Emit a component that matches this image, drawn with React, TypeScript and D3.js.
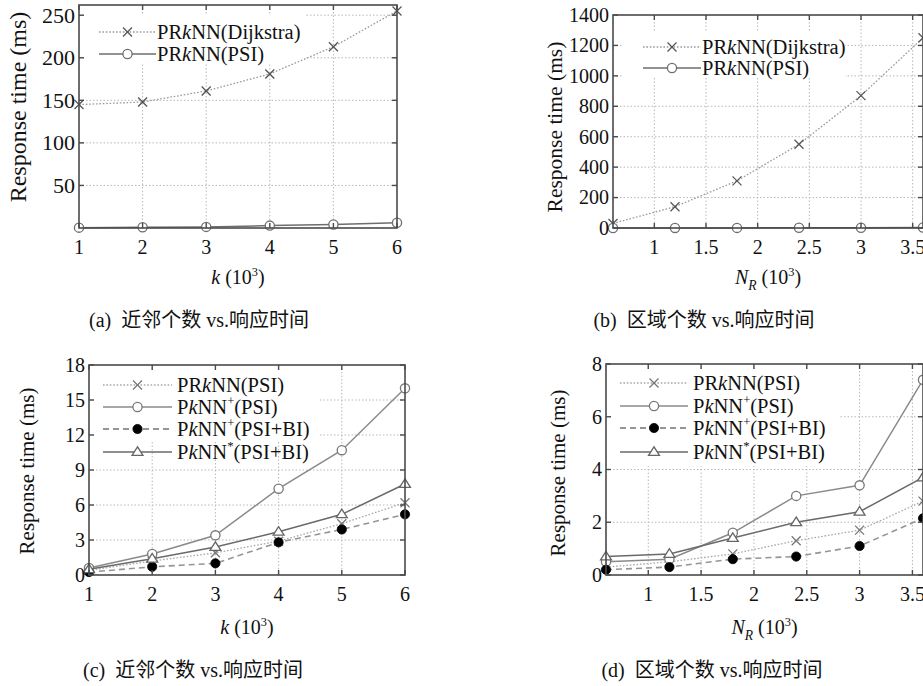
import React from 'react';
import * as d3 from 'd3';

// ---------- data ----------
const kValues = [1, 2, 3, 4, 5, 6];
const nrValues = [0.6, 1.2, 1.8, 2.4, 3.0, 3.6];

const kTicks = [1, 2, 3, 4, 5, 6];
const nrTicks = [1, 1.5, 2, 2.5, 3, 3.5];
const aYTicks = [50, 100, 150, 200, 250];
const bYTicks = [0, 200, 400, 600, 800, 1000, 1200, 1400];
const cYTicks = [0, 3, 6, 9, 12, 15, 18];
const dYTicks = [0, 2, 4, 6, 8];

const aDijkstra = [145, 148, 161, 181, 213, 255];
const aPSI = [0.4, 0.8, 1.3, 2.8, 4.2, 6.2];
const bDijkstra = [30, 140, 310, 550, 870, 1250];
const bPSI = [0.3, 0.5, 0.8, 1.3, 1.7, 2.8];

const cPRkNN = [0.4, 1.2, 1.9, 2.9, 4.4, 6.2];
const cPkNNPlus = [0.6, 1.8, 3.4, 7.4, 10.7, 16.0];
const cPkNNPlusBI = [0.25, 0.7, 1.0, 2.8, 3.9, 5.2];
const cPkNNStar = [0.5, 1.4, 2.4, 3.7, 5.2, 7.8];

const dPRkNN = [0.3, 0.5, 0.8, 1.3, 1.7, 2.8];
const dPkNNPlus = [0.5, 0.6, 1.6, 3.0, 3.4, 7.4];
const dPkNNPlusBI = [0.2, 0.3, 0.6, 0.7, 1.1, 2.15];
const dPkNNStar = [0.7, 0.8, 1.4, 2.0, 2.4, 3.7];

type Seg = { t: string; i?: boolean; sup?: boolean; sub?: boolean };

const labelDijkstra: Seg[] = [{ t: 'PR' }, { t: 'k', i: true }, { t: 'NN(Dijkstra)' }];
const labelPRkNNPSI: Seg[] = [{ t: 'PR' }, { t: 'k', i: true }, { t: 'NN(PSI)' }];
const labelPkNNPlus: Seg[] = [{ t: 'P' }, { t: 'k', i: true }, { t: 'NN' }, { t: '+', sup: true }, { t: '(PSI)' }];
const labelPkNNPlusBI: Seg[] = [{ t: 'P' }, { t: 'k', i: true }, { t: 'NN' }, { t: '+', sup: true }, { t: '(PSI+BI)' }];
const labelPkNNStar: Seg[] = [{ t: 'P' }, { t: 'k', i: true }, { t: 'NN' }, { t: '*', sup: true }, { t: '(PSI+BI)' }];

const xLabelK: Seg[] = [{ t: 'k', i: true }, { t: ' (10' }, { t: '3', sup: true }, { t: ')' }];
const xLabelNR: Seg[] = [{ t: 'N', i: true }, { t: 'R', i: true, sub: true }, { t: ' (10' }, { t: '3', sup: true }, { t: ')' }];
const yLabel = 'Response time (ms)';

const captions = ['(a)  近邻个数 vs.响应时间', '(b)  区域个数 vs.响应时间', '(c)  近邻个数 vs.响应时间', '(d)  区域个数 vs.响应时间'];

// ---------- styles ----------
const SERIF = '"Liberation Serif", "Times New Roman", "Noto Sans CJK SC", serif';
const AXIS = '#4a4a4a';
const GRID = '#b8b8b8';

type Marker = 'x' | 'o' | 'dot' | 'tri';
type Style = { stroke: string; dash?: string; width: number; marker: Marker; mColor: string };

const stDijkstra: Style = { stroke: '#9a9a9a', dash: '1.6,1.8', width: 1.3, marker: 'x', mColor: '#555' };
const stPSIab: Style = { stroke: '#6e6e6e', width: 1.5, marker: 'o', mColor: '#6e6e6e' };
const stPRkNN: Style = { stroke: '#a8a8a8', dash: '1.6,1.8', width: 1.3, marker: 'x', mColor: '#777' };
const stPlus: Style = { stroke: '#8a8a8a', width: 1.5, marker: 'o', mColor: '#777' };
const stPlusBI: Style = { stroke: '#959595', dash: '6,4', width: 1.6, marker: 'dot', mColor: '#000' };
const stStar: Style = { stroke: '#6a6a6a', width: 1.5, marker: 'tri', mColor: '#666' };

type Series = { values: number[]; label: Seg[]; style: Style };
type PanelCfg = {
  left: number; right: number; top: number; bottom: number;
  xDomain: [number, number]; yDomain: [number, number];
  xs: number[]; xTicks: number[]; yTicks: number[];
  series: Series[];
  yTickFont: number; yLabelFont: number; yLabelX: number; yLabelY: number;
  xLabel: Seg[]; xLabelY: number;
  caption: string; captionX: number; captionY: number;
  legend: { x0: number; x1: number; tx: number; rows: number[]; box: [number, number, number, number] };
};

const panels: PanelCfg[] = [
  {
    left: 79, right: 397, top: 5, bottom: 228, xDomain: [1, 6], yDomain: [0, 262],
    xs: kValues, xTicks: kTicks, yTicks: aYTicks,
    series: [
      { values: aDijkstra, label: labelDijkstra, style: stDijkstra },
      { values: aPSI, label: labelPRkNNPSI, style: stPSIab },
    ],
    yTickFont: 22, yLabelFont: 24, yLabelX: 26, yLabelY: 107,
    xLabel: xLabelK, xLabelY: 284, caption: captions[0], captionX: 199, captionY: 327,
    legend: { x0: 99, x1: 156, tx: 157, rows: [32, 54], box: [84, 14, 306, 64] },
  },
  {
    left: 613, right: 923, top: 15, bottom: 228, xDomain: [0.6, 3.6], yDomain: [0, 1400],
    xs: nrValues, xTicks: nrTicks, yTicks: bYTicks,
    series: [
      { values: bDijkstra, label: labelDijkstra, style: stDijkstra },
      { values: bPSI, label: labelPRkNNPSI, style: stPSIab },
    ],
    yTickFont: 20, yLabelFont: 21.5, yLabelX: 562, yLabelY: 127,
    xLabel: xLabelNR, xLabelY: 284, caption: captions[1], captionX: 704, captionY: 327,
    legend: { x0: 643, x1: 701, tx: 702, rows: [47, 68], box: [622, 32, 845, 78] },
  },
  {
    left: 89, right: 405, top: 365, bottom: 575, xDomain: [1, 6], yDomain: [0, 18],
    xs: kValues, xTicks: kTicks, yTicks: cYTicks,
    series: [
      { values: cPRkNN, label: labelPRkNNPSI, style: stPRkNN },
      { values: cPkNNPlus, label: labelPkNNPlus, style: stPlus },
      { values: cPkNNPlusBI, label: labelPkNNPlusBI, style: stPlusBI },
      { values: cPkNNStar, label: labelPkNNStar, style: stStar },
    ],
    yTickFont: 20, yLabelFont: 21, yLabelX: 34, yLabelY: 471,
    xLabel: xLabelK, xLabelY: 634, caption: captions[2], captionX: 193, captionY: 677,
    legend: { x0: 103, x1: 172, tx: 177, rows: [385, 407, 429, 452], box: [96, 372, 320, 442] },
  },
  {
    left: 606, right: 923, top: 364, bottom: 575, xDomain: [0.6, 3.6], yDomain: [0, 8],
    xs: nrValues, xTicks: nrTicks, yTicks: dYTicks,
    series: [
      { values: dPRkNN, label: labelPRkNNPSI, style: stPRkNN },
      { values: dPkNNPlus, label: labelPkNNPlus, style: stPlus },
      { values: dPkNNPlusBI, label: labelPkNNPlusBI, style: stPlusBI },
      { values: dPkNNStar, label: labelPkNNStar, style: stStar },
    ],
    yTickFont: 20, yLabelFont: 21, yLabelX: 565, yLabelY: 473,
    xLabel: xLabelNR, xLabelY: 634, caption: captions[3], captionX: 712, captionY: 677,
    legend: { x0: 620, x1: 688, tx: 693, rows: [383, 406, 428, 452], box: [612, 370, 840, 466] },
  },
];

// ---------- helpers ----------
function RichText({ x, y, segs, fontSize, anchor = 'start' }: { x: number; y: number; segs: Seg[]; fontSize: number; anchor?: string }) {
  let offset = 0;
  const parts = segs.map((s, k) => {
    let target = 0;
    let fs = fontSize;
    if (s.sup) { target = -fontSize * 0.42; fs = fontSize * 0.62; }
    if (s.sub) { target = fontSize * 0.28; fs = fontSize * 0.68; }
    const dy = target - offset;
    offset = target;
    return (
      <tspan key={k} dy={dy} fontSize={fs} fontStyle={s.i ? 'italic' : 'normal'}>{s.t}</tspan>
    );
  });
  return (
    <text x={x} y={y} fontSize={fontSize} textAnchor={anchor} fontFamily={SERIF} fill="#111" style={{ whiteSpace: 'pre' }}>
      {parts}
    </text>
  );
}

function MarkerShape({ cx, cy, st }: { cx: number; cy: number; st: Style }) {
  const c = st.mColor;
  if (st.marker === 'x') {
    const r = 4.5;
    return (
      <g stroke={c} strokeWidth={1.3}>
        <line x1={cx - r} y1={cy - r} x2={cx + r} y2={cy + r} />
        <line x1={cx - r} y1={cy + r} x2={cx + r} y2={cy - r} />
      </g>
    );
  }
  if (st.marker === 'o') return <circle cx={cx} cy={cy} r={4.6} fill="#fff" stroke={c} strokeWidth={1.3} />;
  if (st.marker === 'dot') return <circle cx={cx} cy={cy} r={4.6} fill={c} stroke={c} strokeWidth={0.8} />;
  const s = 5.2;
  const pts = [[cx, cy - s], [cx - s * 1.05, cy + s * 0.65], [cx + s * 1.05, cy + s * 0.65]].map((p) => p.join(',')).join(' ');
  return <polygon points={pts} fill="#fff" stroke={c} strokeWidth={1.3} />;
}

function fmt(v: number) {
  return Number.isInteger(v) ? String(v) : String(v);
}

function Panel({ p }: { p: PanelCfg }) {
  const x = d3.scaleLinear().domain(p.xDomain).range([p.left, p.right]);
  const y = d3.scaleLinear().domain(p.yDomain).range([p.bottom, p.top]);
  const tl = 5;
  const eps = 0.5;
  const gridX = p.xTicks.filter((t) => Math.abs(x(t) - p.left) > eps && Math.abs(x(t) - p.right) > eps);
  const gridY = p.yTicks.filter((t) => Math.abs(y(t) - p.top) > eps && Math.abs(y(t) - p.bottom) > eps);
  const [bx0, by0, bx1, by1] = p.legend.box;

  return (
    <g>
      {/* grid */}
      <g stroke={GRID} strokeWidth={1} strokeDasharray="1.5,2">
        {gridX.map((t) => <line key={'gx' + t} x1={x(t)} x2={x(t)} y1={p.top} y2={p.bottom} />)}
        {gridY.map((t) => <line key={'gy' + t} x1={p.left} x2={p.right} y1={y(t)} y2={y(t)} />)}
      </g>
      {/* legend background */}
      <rect x={bx0} y={by0} width={bx1 - bx0} height={by1 - by0} fill="#fff" />
      {/* series */}
      {p.series.map((s, si) => {
        const line = d3.line<number>().x((_, i) => x(p.xs[i])).y((d) => y(d));
        return (
          <g key={'s' + si}>
            <path d={line(s.values) || ''} fill="none" stroke={s.style.stroke} strokeWidth={s.style.width} strokeDasharray={s.style.dash} />
            {s.values.map((v, i) => <MarkerShape key={i} cx={x(p.xs[i])} cy={y(v)} st={s.style} />)}
          </g>
        );
      })}
      {/* box and ticks */}
      <rect x={p.left} y={p.top} width={p.right - p.left} height={p.bottom - p.top} fill="none" stroke={AXIS} strokeWidth={1.6} />
      <g stroke={AXIS} strokeWidth={1.4}>
        {p.xTicks.map((t) => (
          <g key={'xt' + t}>
            <line x1={x(t)} x2={x(t)} y1={p.bottom} y2={p.bottom - tl} />
            <line x1={x(t)} x2={x(t)} y1={p.top} y2={p.top + tl} />
          </g>
        ))}
        {p.yTicks.map((t) => (
          <g key={'yt' + t}>
            <line x1={p.left} x2={p.left + tl} y1={y(t)} y2={y(t)} />
            <line x1={p.right} x2={p.right - tl} y1={y(t)} y2={y(t)} />
          </g>
        ))}
      </g>
      {/* tick labels */}
      <g fontFamily={SERIF} fill="#111">
        {p.xTicks.map((t) => (
          <text key={'xl' + t} x={x(t)} y={p.bottom + 26} fontSize={20} textAnchor="middle">{fmt(t)}</text>
        ))}
        {p.yTicks.map((t) => (
          <text key={'yl' + t} x={p.left - 4} y={y(t) + p.yTickFont * 0.34} fontSize={p.yTickFont} textAnchor="end">{fmt(t)}</text>
        ))}
      </g>
      {/* axis labels */}
      <text
        transform={`translate(${p.yLabelX},${p.yLabelY}) rotate(-90)`}
        textAnchor="middle" fontFamily={SERIF} fontSize={p.yLabelFont} fill="#111"
      >{yLabel}</text>
      <RichText x={(p.left + p.right) / 2} y={p.xLabelY} segs={p.xLabel} fontSize={20} anchor="middle" />
      {/* legend */}
      {p.series.map((s, si) => {
        const ry = p.legend.rows[si];
        const mx = (p.legend.x0 + p.legend.x1) / 2;
        return (
          <g key={'lg' + si}>
            <line x1={p.legend.x0} x2={p.legend.x1} y1={ry} y2={ry} stroke={s.style.stroke} strokeWidth={s.style.width + 0.2} strokeDasharray={s.style.dash} />
            <MarkerShape cx={mx} cy={ry} st={s.style} />
            <RichText x={p.legend.tx} y={ry + 7} segs={s.label} fontSize={20.5} />
          </g>
        );
      })}
      {/* caption */}
      <text x={p.captionX} y={p.captionY} textAnchor="middle" fontFamily={SERIF} fontSize={20} fill="#111" style={{ whiteSpace: 'pre' }}>{p.caption}</text>
    </g>
  );
}

export default function App() {
  return (
    <>
      <style>{'body{margin:0;background:#fff;}'}</style>
      <svg width={923} height={686} viewBox="0 0 923 686" style={{ display: 'block', background: '#fff' }}>
        <rect x={0} y={0} width={923} height={686} fill="#fff" />
        {panels.map((p, i) => <Panel key={i} p={p} />)}
      </svg>
    </>
  );
}
